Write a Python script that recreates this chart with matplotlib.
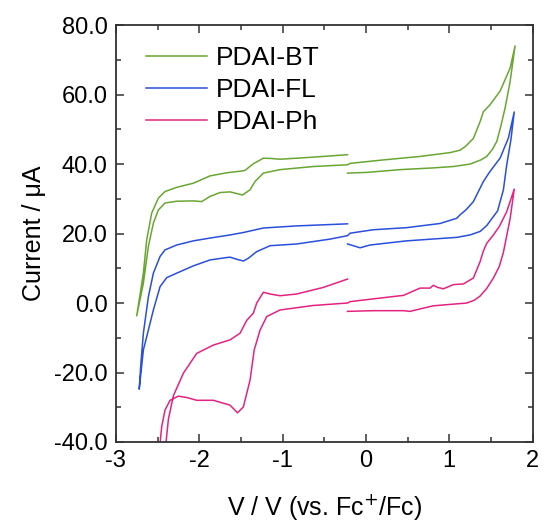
import matplotlib
matplotlib.use('Agg')
import matplotlib.pyplot as plt
from matplotlib.ticker import MultipleLocator, FormatStrFormatter

plt.rcParams['font.family'] = ['Liberation Sans', 'DejaVu Sans']
plt.rcParams['axes.unicode_minus'] = False

# PDAI-BT: forward scan from -0.2 V to 1.8 V, back to -2.75 V, then back to -0.2 V
bt_v = [-0.22, 0.01, 0.41, 0.81, 1.05, 1.25, 1.38, 1.45, 1.52, 1.57, 1.62, 1.67, 1.73, 1.79,
        1.73, 1.61, 1.49, 1.44, 1.41, 1.37, 1.29, 1.20, 1.13, 1.01, 0.65, 0.21, -0.19,
        -0.22, -0.63, -1.03, -1.23, -1.33, -1.39, -1.48, -1.63, -1.75, -1.87, -1.97, -2.07,
        -2.27, -2.41, -2.49, -2.55, -2.61, -2.67, -2.75,
        -2.67, -2.63, -2.57, -2.49, -2.41, -2.27, -2.07, -1.87, -1.67, -1.49, -1.45, -1.35,
        -1.23, -1.13, -1.03, -0.63, -0.22]
bt_i = [37.4, 37.6, 38.4, 38.9, 39.3, 40.0, 41.2, 42.2, 44.3, 46.5, 51.0, 56.1, 63.7, 74.0,
        67.6, 61.0, 57.1, 55.8, 55.1, 52.2, 47.4, 45.2, 44.0, 43.3, 42.2, 41.2, 40.2,
        39.8, 39.3, 38.4, 37.4, 35.0, 32.6, 31.1, 32.0, 31.8, 30.7, 29.2, 29.4,
        29.3, 28.8, 26.8, 23.0, 16.3, 5.7, -3.7,
        8.6, 18.2, 25.9, 30.2, 32.1, 33.3, 34.5, 36.6, 37.5, 38.0, 38.2, 40.1,
        41.7, 41.6, 41.4, 42.0, 42.7]

# PDAI-FL
fl_v = [-0.22, -0.15, -0.07, 0.05, 0.49, 1.09, 1.25, 1.37, 1.45, 1.53, 1.58, 1.65, 1.69, 1.74, 1.78,
        1.71, 1.61, 1.49, 1.41, 1.29, 1.20, 1.13, 1.09, 0.89, 0.49, 0.09, -0.19,
        -0.22, -0.43, -0.83, -1.15, -1.31, -1.41, -1.47, -1.55, -1.63, -1.67, -1.87, -2.07,
        -2.27, -2.39, -2.47, -2.55, -2.63, -2.67, -2.72,
        -2.70, -2.67, -2.61, -2.55, -2.47, -2.41, -2.27, -2.07, -1.87, -1.63, -1.47, -1.23,
        -0.83, -0.22]
fl_i = [17.0, 16.5, 15.9, 16.7, 17.9, 18.9, 19.6, 20.6, 22.3, 24.9, 26.5, 32.6, 39.8, 47.0, 55.0,
        47.5, 41.7, 37.9, 35.0, 29.2, 26.8, 25.4, 24.4, 22.9, 21.7, 21.1, 20.1,
        19.4, 18.4, 17.0, 16.5, 14.8, 12.9, 12.1, 12.6, 13.2, 13.1, 12.4, 10.7,
        8.6, 7.3, 4.7, -2.0, -9.7, -13.5, -24.8,
        -17.5, -8.7, 1.8, 8.6, 13.4, 15.3, 16.7, 17.9, 18.7, 19.6, 20.3, 21.6,
        22.2, 22.8]

# PDAI-Ph
ph_v = [-0.22, 0.09, 0.45, 0.53, 0.65, 0.81, 1.21, 1.30, 1.37, 1.45, 1.53, 1.60, 1.65, 1.73, 1.78,
        1.69, 1.60, 1.53, 1.45, 1.41, 1.37, 1.29, 1.17, 1.05, 0.93, 0.86, 0.81, 0.77, 0.72, 0.65,
        0.45, 0.09, -0.19,
        -0.22, -0.63, -1.03, -1.19, -1.27, -1.34, -1.39, -1.47, -1.54, -1.63, -1.83, -2.03,
        -2.15, -2.25, -2.35, -2.41, -2.45, -2.47, -2.48,
        -2.42, -2.40, -2.37, -2.31, -2.19, -2.03, -1.83, -1.63, -1.51, -1.43, -1.35, -1.31,
        -1.23, -1.15, -1.03, -0.83, -0.51, -0.22]
ph_i = [-2.4, -2.2, -2.2, -2.4, -1.7, -0.8, 0.0, 0.8, 2.0, 4.2, 7.2, 10.5, 14.6, 24.2, 32.8,
        26.3, 22.0, 19.6, 17.2, 15.0, 11.9, 7.2, 5.5, 5.3, 4.1, 4.5, 5.1, 4.3, 4.3, 4.3,
        2.2, 1.2, 0.4,
        0.0, -0.7, -2.0, -3.9, -7.8, -13.5, -22.2, -29.9, -31.6, -29.4, -28.0, -28.0,
        -27.2, -26.8, -28.0, -30.8, -35.6, -40.5, -46.0,
        -46.0, -40.5, -33.5, -26.7, -20.2, -14.5, -12.1, -10.6, -8.7, -5.0, -2.9, 0.0,
        3.1, 2.6, 2.1, 2.6, 4.5, 6.9]

labels = ['PDAI-BT', 'PDAI-FL', 'PDAI-Ph']
colors = ['#6aa632', '#2a4fdc', '#e3247f']

fig = plt.figure(figsize=(5.44, 5.29), dpi=100)
ax = fig.add_axes([0.213, 0.1645, 0.766, 0.788])

for v, i, lab, c in zip([bt_v, fl_v, ph_v], [bt_i, fl_i, ph_i], labels, colors):
    ax.plot(v, i, color=c, lw=1.1, label=lab, solid_joinstyle='round')

ax.set_xlim(-3, 2)
ax.set_ylim(-40, 80)
ax.xaxis.set_major_locator(MultipleLocator(1))
ax.xaxis.set_minor_locator(MultipleLocator(0.5))
ax.yaxis.set_major_locator(MultipleLocator(20))
ax.yaxis.set_minor_locator(MultipleLocator(10))
ax.yaxis.set_major_formatter(FormatStrFormatter('%.1f'))
ax.tick_params(which='both', direction='in', top=True, right=True, width=1.1,
               color='#333333', labelsize=17, pad=6)
ax.tick_params(which='major', length=6)
ax.tick_params(which='minor', length=3.5)
for s in ax.spines.values():
    s.set_linewidth(1.3)
    s.set_color('#333333')

ax.set_xlabel('V / V (vs. Fc$^{+}$/Fc)', fontsize=18, labelpad=14)
ax.set_ylabel('Current / μA', fontsize=18, labelpad=6)

ax.legend(loc='upper left', bbox_to_anchor=(0.072, 0.95), frameon=False, fontsize=19,
          handlelength=2.3, handletextpad=0.35, labelspacing=0.3, borderpad=0, borderaxespad=0)

fig.savefig('out.png', dpi=100)
